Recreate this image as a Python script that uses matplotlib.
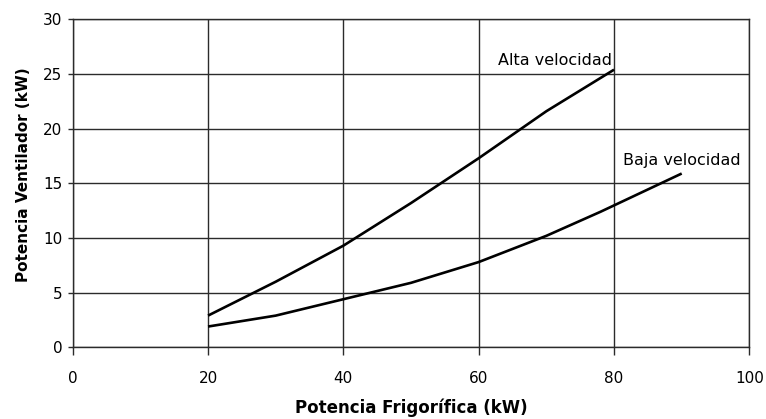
import matplotlib
matplotlib.use("Agg")
import matplotlib.pyplot as plt

# Cooling capacity (kW) vs. fan power (kW) for the two fan speeds
alta_x = [20, 30, 40, 50, 60, 70, 80]
alta_y = [2.9, 6.0, 9.3, 13.2, 17.3, 21.6, 25.4]

baja_x = [20, 30, 40, 50, 60, 70, 78, 90]
baja_y = [1.9, 2.9, 4.4, 5.9, 7.8, 10.2, 12.4, 15.9]

x_ticks = [0, 20, 40, 60, 80, 100]
y_ticks = [0, 5, 10, 15, 20, 25, 30]

label_alta = "Alta velocidad"
label_baja = "Baja velocidad"
x_title = "Potencia Frigorífica (kW)"
y_title = "Potencia Ventilador (kW)"

fig = plt.figure(figsize=(7.66, 4.19), dpi=100)
ax = fig.add_axes([0.0949, 0.1711, 0.8834, 0.7826])

grid_color = "#2b2b2b"
ax.set_xlim(0, 100)
ax.set_ylim(0, 30)
ax.set_xticks(x_ticks)
ax.set_yticks(y_ticks)
ax.grid(True, color=grid_color, linewidth=1.0)
ax.set_axisbelow(True)
for s in ax.spines.values():
    s.set_color(grid_color)
    s.set_linewidth(1.0)

ax.tick_params(axis="x", direction="out", length=6, width=1.0, color=grid_color,
               pad=11, labelsize=11)
ax.tick_params(axis="y", direction="out", length=3.5, width=1.0, color=grid_color,
               pad=4, labelsize=11)
for lab in ax.get_xticklabels() + ax.get_yticklabels():
    lab.set_fontfamily("DejaVu Sans")

ax.plot(alta_x, alta_y, color="black", linewidth=1.9, solid_capstyle="butt")
ax.plot(baja_x, baja_y, color="black", linewidth=1.9, solid_capstyle="butt")

ax.text(79.7, 25.8, label_alta, ha="right", va="baseline", fontsize=11.5,
        family="DejaVu Sans")
ax.text(98.7, 16.7, label_baja, ha="right", va="baseline", fontsize=11.5,
        family="DejaVu Sans")

ax.set_xlabel(x_title, fontsize=12, fontweight="bold", family="DejaVu Sans")
ax.set_ylabel(y_title, fontsize=11, fontweight="bold", family="DejaVu Sans")
ax.xaxis.set_label_coords(0.5, -0.155)
ax.yaxis.set_label_coords(-0.062, 0.525)

fig.savefig("out.png", dpi=100)
